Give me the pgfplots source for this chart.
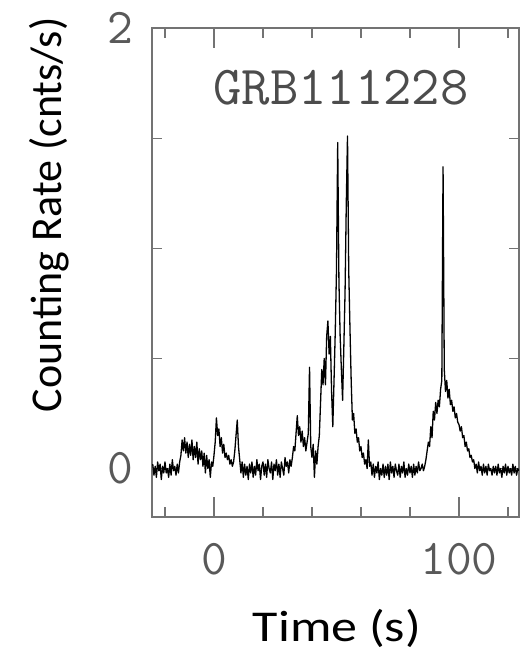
\documentclass[border=0pt]{standalone}
\usepackage{pgfplots}
\usepackage{pgfplotstable}
\usepackage{graphicx}
\pgfplotsset{compat=1.18}
\usepackage{fontspec}
\newfontfamily\calib{Carlito}

% counting rate, one value every 0.5 s starting at t = -25 s
\pgfplotstableread[row sep=\\]{
y\\
0.02\\ -0.03\\ 0.01\\ -0.04\\ 0.03\\ -0.01\\ 0.02\\ -0.05\\ 0.01\\ -0.02\\
0.03\\ -0.02\\ 0.00\\ -0.04\\ 0.02\\ -0.03\\ 0.04\\ -0.01\\ 0.01\\ -0.03\\
0.02\\ -0.02\\ 0.03\\ 0.06\\ 0.13\\ 0.08\\ 0.14\\ 0.07\\ 0.12\\ 0.05\\
0.11\\ 0.06\\ 0.13\\ 0.04\\ 0.10\\ 0.05\\ 0.12\\ 0.02\\ 0.09\\ 0.04\\
0.08\\ 0.01\\ 0.07\\ -0.02\\ 0.06\\ 0.00\\ 0.04\\ -0.04\\ 0.03\\ 0.01\\
0.06\\ 0.12\\ 0.23\\ 0.15\\ 0.18\\ 0.10\\ 0.14\\ 0.07\\ 0.11\\ 0.05\\
0.07\\ 0.04\\ 0.06\\ 0.02\\ 0.04\\ 0.01\\ 0.03\\ 0.08\\ 0.15\\ 0.22\\
0.10\\ 0.04\\ -0.02\\ 0.03\\ -0.04\\ 0.02\\ -0.03\\ 0.01\\ -0.05\\ 0.02\\
-0.02\\ 0.03\\ -0.04\\ 0.01\\ -0.03\\ 0.04\\ -0.01\\ 0.02\\ -0.05\\ 0.01\\
0.03\\ -0.03\\ 0.02\\ -0.04\\ 0.04\\ 0.00\\ -0.02\\ 0.03\\ -0.05\\ 0.02\\
-0.01\\ 0.04\\ -0.03\\ 0.02\\ -0.04\\ 0.03\\ 0.00\\ -0.03\\ 0.05\\ 0.01\\
0.03\\ -0.02\\ 0.04\\ 0.01\\ 0.05\\ 0.10\\ 0.08\\ 0.16\\ 0.24\\ 0.15\\
0.19\\ 0.12\\ 0.17\\ 0.10\\ 0.14\\ 0.08\\ 0.12\\ 0.16\\ 0.46\\ 0.10\\
0.05\\ 0.11\\ -0.04\\ 0.08\\ 0.02\\ 0.10\\ 0.15\\ 0.30\\ 0.45\\ 0.38\\
0.50\\ 0.38\\ 0.60\\ 0.67\\ 0.52\\ 0.60\\ 0.35\\ 0.19\\ 0.40\\ 0.62\\
0.90\\ 1.48\\ 0.85\\ 0.60\\ 0.45\\ 0.31\\ 0.55\\ 0.80\\ 1.20\\ 1.51\\
0.90\\ 0.64\\ 0.40\\ 0.22\\ 0.25\\ 0.16\\ 0.18\\ 0.12\\ 0.14\\ 0.08\\
0.10\\ 0.05\\ 0.07\\ 0.02\\ 0.04\\ 0.00\\ 0.13\\ 0.01\\ 0.03\\ -0.03\\
0.02\\ -0.04\\ 0.01\\ -0.02\\ 0.03\\ -0.05\\ 0.00\\ -0.03\\ 0.02\\ -0.04\\
0.01\\ -0.03\\ 0.02\\ -0.05\\ 0.03\\ -0.02\\ 0.01\\ -0.04\\ 0.02\\ -0.01\\
-0.03\\ 0.02\\ -0.04\\ 0.01\\ -0.02\\ 0.03\\ -0.04\\ 0.00\\ -0.03\\ 0.02\\
-0.02\\ 0.01\\ -0.04\\ 0.02\\ -0.03\\ 0.01\\ -0.02\\ 0.03\\ -0.01\\ 0.00\\
0.02\\ -0.01\\ 0.01\\ 0.04\\ 0.08\\ 0.12\\ 0.10\\ 0.19\\ 0.14\\ 0.26\\
0.22\\ 0.30\\ 0.25\\ 0.31\\ 0.28\\ 0.36\\ 0.40\\ 1.37\\ 0.45\\ 0.35\\
0.40\\ 0.32\\ 0.36\\ 0.29\\ 0.31\\ 0.26\\ 0.28\\ 0.23\\ 0.25\\ 0.21\\
0.20\\ 0.17\\ 0.19\\ 0.14\\ 0.15\\ 0.10\\ 0.12\\ 0.08\\ 0.09\\ 0.05\\
0.06\\ 0.03\\ 0.04\\ 0.00\\ 0.02\\ -0.02\\ 0.03\\ -0.01\\ 0.01\\ -0.03\\
0.02\\ -0.02\\ 0.01\\ -0.03\\ 0.02\\ -0.01\\ 0.00\\ -0.03\\ 0.01\\ -0.02\\
0.01\\ -0.03\\ 0.02\\ -0.02\\ 0.00\\ -0.04\\ 0.01\\ -0.02\\ 0.02\\ -0.03\\
0.01\\ -0.02\\ 0.00\\ -0.03\\ 0.02\\ -0.02\\ 0.01\\ -0.03\\ 0.00\\ -0.01\\
}\grbdata

\begin{document}
\begin{tikzpicture}
\begin{axis}[
  name=ax,
  scale only axis,
  width=367bp, height=489bp,
  xmin=-25.3, xmax=124.5,
  ymin=-0.22, ymax=2,
  axis line style={black!55, line width=1.3bp},
  xtick={0,100}, xticklabels={0,100},
  minor xtick={-20,20,40,60,80,120},
  ytick={0,2}, yticklabels={0,2},
  minor ytick={0.5,1,1.5},
  major tick length=20bp, minor tick length=10bp,
  tick align=inside,
  every tick/.style={black!55, line width=1.2bp},
  xticklabel style={font=\ttfamily\fontsize{50bp}{50bp}\selectfont, text=black!65, anchor=north, inner sep=0pt, yshift=-26bp},
  yticklabel style={font=\ttfamily\fontsize{50bp}{50bp}\selectfont, text=black!65, anchor=east, inner sep=0pt, xshift=-19bp},
  xlabel={\scalebox{1.18}[1]{Time (s)}},
  ylabel={Counting Rate (cnts/s)},
  xlabel style={font=\calib\fontsize{44bp}{46bp}\selectfont, at={(rel axis cs:0.504,-0.228)}, anchor=center, inner sep=0pt},
  ylabel style={font=\calib\fontsize{44bp}{46bp}\selectfont, at={(rel axis cs:-0.281,0.618)}, anchor=center, inner sep=0pt},
]
\addplot[black, line width=1.3bp, mark=none, line join=round] table[x expr=\coordindex*0.5-25, y=y] {\grbdata};
\node[font=\ttfamily\fontsize{55bp}{55bp}\selectfont, text=black!70, inner sep=0pt] at (rel axis cs:0.515,0.877) {GRB111228};
\end{axis}
\pgfresetboundingbox
\path[use as bounding box] ([xshift=-152bp,yshift=-136bp]ax.south west) rectangle ([xshift=7bp,yshift=28bp]ax.north east);
\end{tikzpicture}
\end{document}
